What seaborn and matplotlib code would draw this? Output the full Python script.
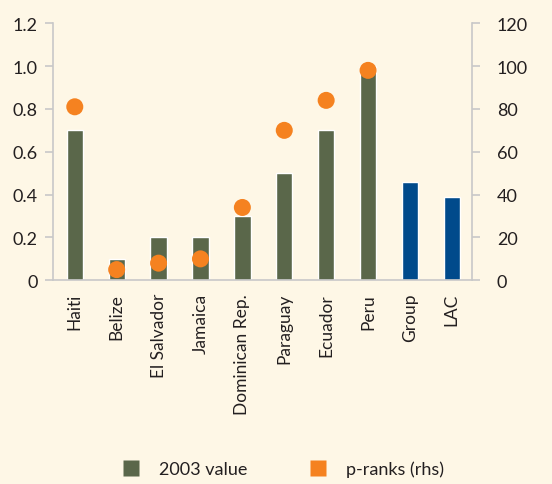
import numpy as np
import pandas as pd
import matplotlib
matplotlib.use('Agg')
import matplotlib.pyplot as plt
import seaborn as sns
from matplotlib.lines import Line2D

# 数据
countries = ['Haiti', 'Belize', 'El Salvador', 'Jamaica', 'Dominican Rep.',
             'Paraguay', 'Ecuador', 'Peru', 'Group', 'LAC']
value_2003 = [0.70, 0.10, 0.20, 0.20, 0.30, 0.50, 0.70, 1.00, 0.46, 0.39]
p_ranks = [81, 5, 8, 10, 34, 70, 84, 98, np.nan, np.nan]

bg = '#fef7e6'
green = '#5a674a'
blue = '#004a8b'
orange = '#f58220'
grey = '#c8c8c8'
txt = '#231f20'

sns.set_theme(style='white')
plt.rcParams['font.family'] = ['Lato', 'DejaVu Sans']

df = pd.DataFrame({'country': countries, 'value': value_2003, 'rank': p_ranks})
bar_colors = [green] * 8 + [blue] * 2

fig = plt.figure(figsize=(5.52, 4.85), dpi=100, facecolor=bg)
ax = fig.add_axes([0.096, 0.42, 0.759, 0.53])
ax.set_facecolor(bg)
sns.barplot(data=df, x='country', y='value', hue='country', palette=bar_colors,
            legend=False, width=0.39, saturation=1, ax=ax)
ax.set_ylim(0, 1.2)
ax.set_xlim(-0.52, 9.48)
ax.set_yticks([0, 0.2, 0.4, 0.6, 0.8, 1.0, 1.2])
ax.set_yticklabels(['0', '0.2', '0.4', '0.6', '0.8', '1.0', '1.2'])
ax.set_xlabel('')
ax.set_ylabel('')

ax2 = ax.twinx()
sns.scatterplot(data=df, x='country', y='rank', color=orange, s=150,
                edgecolor='none', ax=ax2, zorder=5)
ax2.set_ylim(0, 120)
ax2.set_yticks(range(0, 121, 20))
ax2.set_ylabel('')

for a in (ax, ax2):
    for s in a.spines.values():
        s.set_visible(False)
ax.spines['left'].set_visible(True)
ax.spines['bottom'].set_visible(True)
ax2.spines['right'].set_visible(True)
for s in (ax.spines['left'], ax.spines['bottom'], ax2.spines['right']):
    s.set_color(grey)
    s.set_linewidth(1.2)

ax.tick_params(axis='y', length=6, width=1.2, color=grey, pad=5,
               labelsize=13, labelcolor=txt, left=True)
ax.tick_params(axis='x', length=0, pad=9, labelsize=12.5, labelcolor=txt,
               rotation=90)
ax2.tick_params(axis='y', length=6, width=1.2, color=grey, pad=12,
                labelsize=13, labelcolor=txt, right=True)

handles = [Line2D([0], [0], marker='s', linestyle='none', markersize=11.5,
                  markerfacecolor=green, markeredgecolor='none'),
           Line2D([0], [0], marker='s', linestyle='none', markersize=11.5,
                  markerfacecolor=orange, markeredgecolor='none')]
fig.legend(handles, ['2003 value', 'p-ranks (rhs)'], loc='center',
           bbox_to_anchor=(0.513, 0.031), ncol=2, frameon=False,
           fontsize=13, columnspacing=3.4, handlelength=1.0,
           handletextpad=1.05, labelcolor=txt)

fig.savefig('out.png', dpi=100, facecolor=bg)
